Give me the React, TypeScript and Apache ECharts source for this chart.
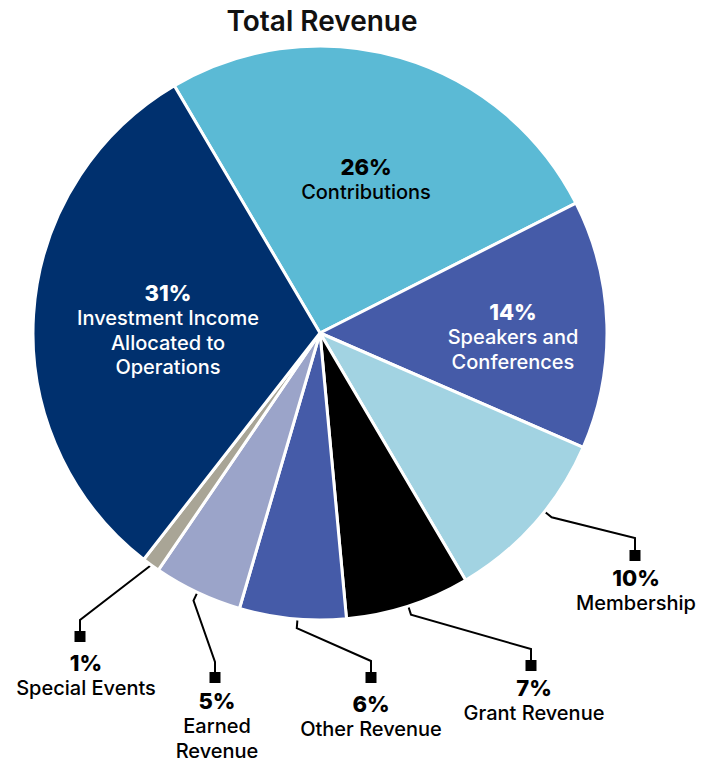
import React, { useEffect, useRef } from "react";
import * as echarts from "echarts";

// ---- data ----
const categories = [
  "Contributions",
  "Speakers and Conferences",
  "Membership",
  "Grant Revenue",
  "Other Revenue",
  "Earned Revenue",
  "Special Events",
  "Investment Income Allocated to Operations",
];
const values = [26, 14, 10, 7, 6, 5, 1, 31];
const labelLines = [
  ["Contributions"],
  ["Speakers and", "Conferences"],
  ["Membership"],
  ["Grant Revenue"],
  ["Other Revenue"],
  ["Earned", "Revenue"],
  ["Special Events"],
  ["Investment Income", "Allocated to", "Operations"],
];
const sliceColors = ["#5BBAD5", "#455BA8", "#A2D3E2", "#000000", "#455BA8", "#9BA4C9", "#A9A596", "#00306E"];
const whiteLabel = [false, true, false, false, false, false, false, true];

// ---- layout (positions only) ----
const CX = 320;
const CY = 333;
const R = 287;
const START_ANGLE = 120.5;
const FONT = "Inter, 'Open Sans', sans-serif";
const PCT_LH = 26;
const NAME_LH = 24.5;
// [center x, y of the percentage line's center]
const labelPos: Record<number, [number, number]> = {
  0: [366, 167],
  1: [513, 312],
  2: [636, 578],
  3: [534, 688],
  4: [371, 704],
  5: [217, 701],
  6: [86, 663],
  7: [168, 293],
};
// leader anchors: [square center x, elbow y, square top y, use stub, angle offset deg]
const leaderAnchors: Record<number, [number, number, number, boolean, number]> = {
  2: [635, 538, 550, true, 3],
  3: [531, 649, 660, true, 0],
  4: [371, 661, 672, true, 1],
  5: [215, 662, 672, true, 0],
  6: [80, 620, 631, false, 0],
};

export default function App() {
  const ref = useRef<HTMLDivElement>(null);

  useEffect(() => {
    document.body.style.margin = "0";
    if (!ref.current) return;
    const chart = echarts.init(ref.current, null, { renderer: "svg" });

    const total = values.reduce((a, b) => a + b, 0);
    const graphics: any[] = [];
    let cum = 0;
    values.forEach((v, i) => {
      const midDeg = START_ANGLE - ((cum + v / 2) / total) * 360;
      cum += v;
      const a = leaderAnchors[i];
      if (!a) return;
      const rad = ((midDeg + a[4]) * Math.PI) / 180;
      const dx = Math.cos(rad);
      const dy = -Math.sin(rad);
      const pts: number[][] = [[CX + (R + 1) * dx, CY + (R + 1) * dy]];
      if (a[3]) pts.push([CX + (R + 9) * dx, CY + (R + 9) * dy]);
      pts.push([a[0], a[1]]);
      pts.push([a[0], a[2]]);
      graphics.push({
        type: "polyline",
        shape: { points: pts },
        style: { stroke: "#000", lineWidth: 2, fill: null },
        silent: true,
      });
      graphics.push({
        type: "rect",
        shape: { x: a[0] - 5.5, y: a[2], width: 11, height: 11 },
        style: { fill: "#000" },
        silent: true,
      });
    });

    const data = categories.map((name, i) => ({
      name,
      value: values[i],
      itemStyle: { color: sliceColors[i] },
    }));

    const pStyle = { fontFamily: FONT, fontSize: 22, fontWeight: 800, lineHeight: PCT_LH, align: "center" };
    const nStyle = { fontFamily: FONT, fontSize: 20, fontWeight: 500, lineHeight: NAME_LH, align: "center" };

    chart.setOption({
      animation: false,
      graphic: [
        ...graphics,
        {
          type: "text",
          x: 322,
          y: 21,
          style: {
            text: "Total Revenue",
            align: "center",
            verticalAlign: "middle",
            fontFamily: FONT,
            fontSize: 28,
            fontWeight: 600,
            fill: "#111",
          },
        },
      ],
      series: [
        {
          type: "pie",
          center: [CX, CY],
          radius: [0, R],
          startAngle: START_ANGLE,
          clockwise: true,
          avoidLabelOverlap: false,
          emphasis: { disabled: true },
          itemStyle: { borderColor: "#fff", borderWidth: 3 },
          labelLine: { show: false },
          label: {
            show: true,
            position: "outside",
            formatter: (p: any) => {
              const i = p.dataIndex;
              const w = whiteLabel[i] ? "w" : "";
              const lines = [`{p${w}|${values[i]}%}`];
              labelLines[i].forEach((l) => lines.push(`{n${w}|${l}}`));
              return lines.join("\n");
            },
            rich: {
              p: { ...pStyle, color: "#000" },
              n: { ...nStyle, color: "#000" },
              pw: { ...pStyle, color: "#fff" },
              nw: { ...nStyle, color: "#fff" },
            },
          },
          labelLayout: (params: any) => {
            const i = params.dataIndex;
            const p = labelPos[i];
            const top = p[1] - PCT_LH / 2;
            return { x: p[0], y: top, align: "center", verticalAlign: "top" };
          },
          data,
        },
      ],
    });

    return () => chart.dispose();
  }, []);

  return <div ref={ref} style={{ width: 716, height: 762 }} />;
}
